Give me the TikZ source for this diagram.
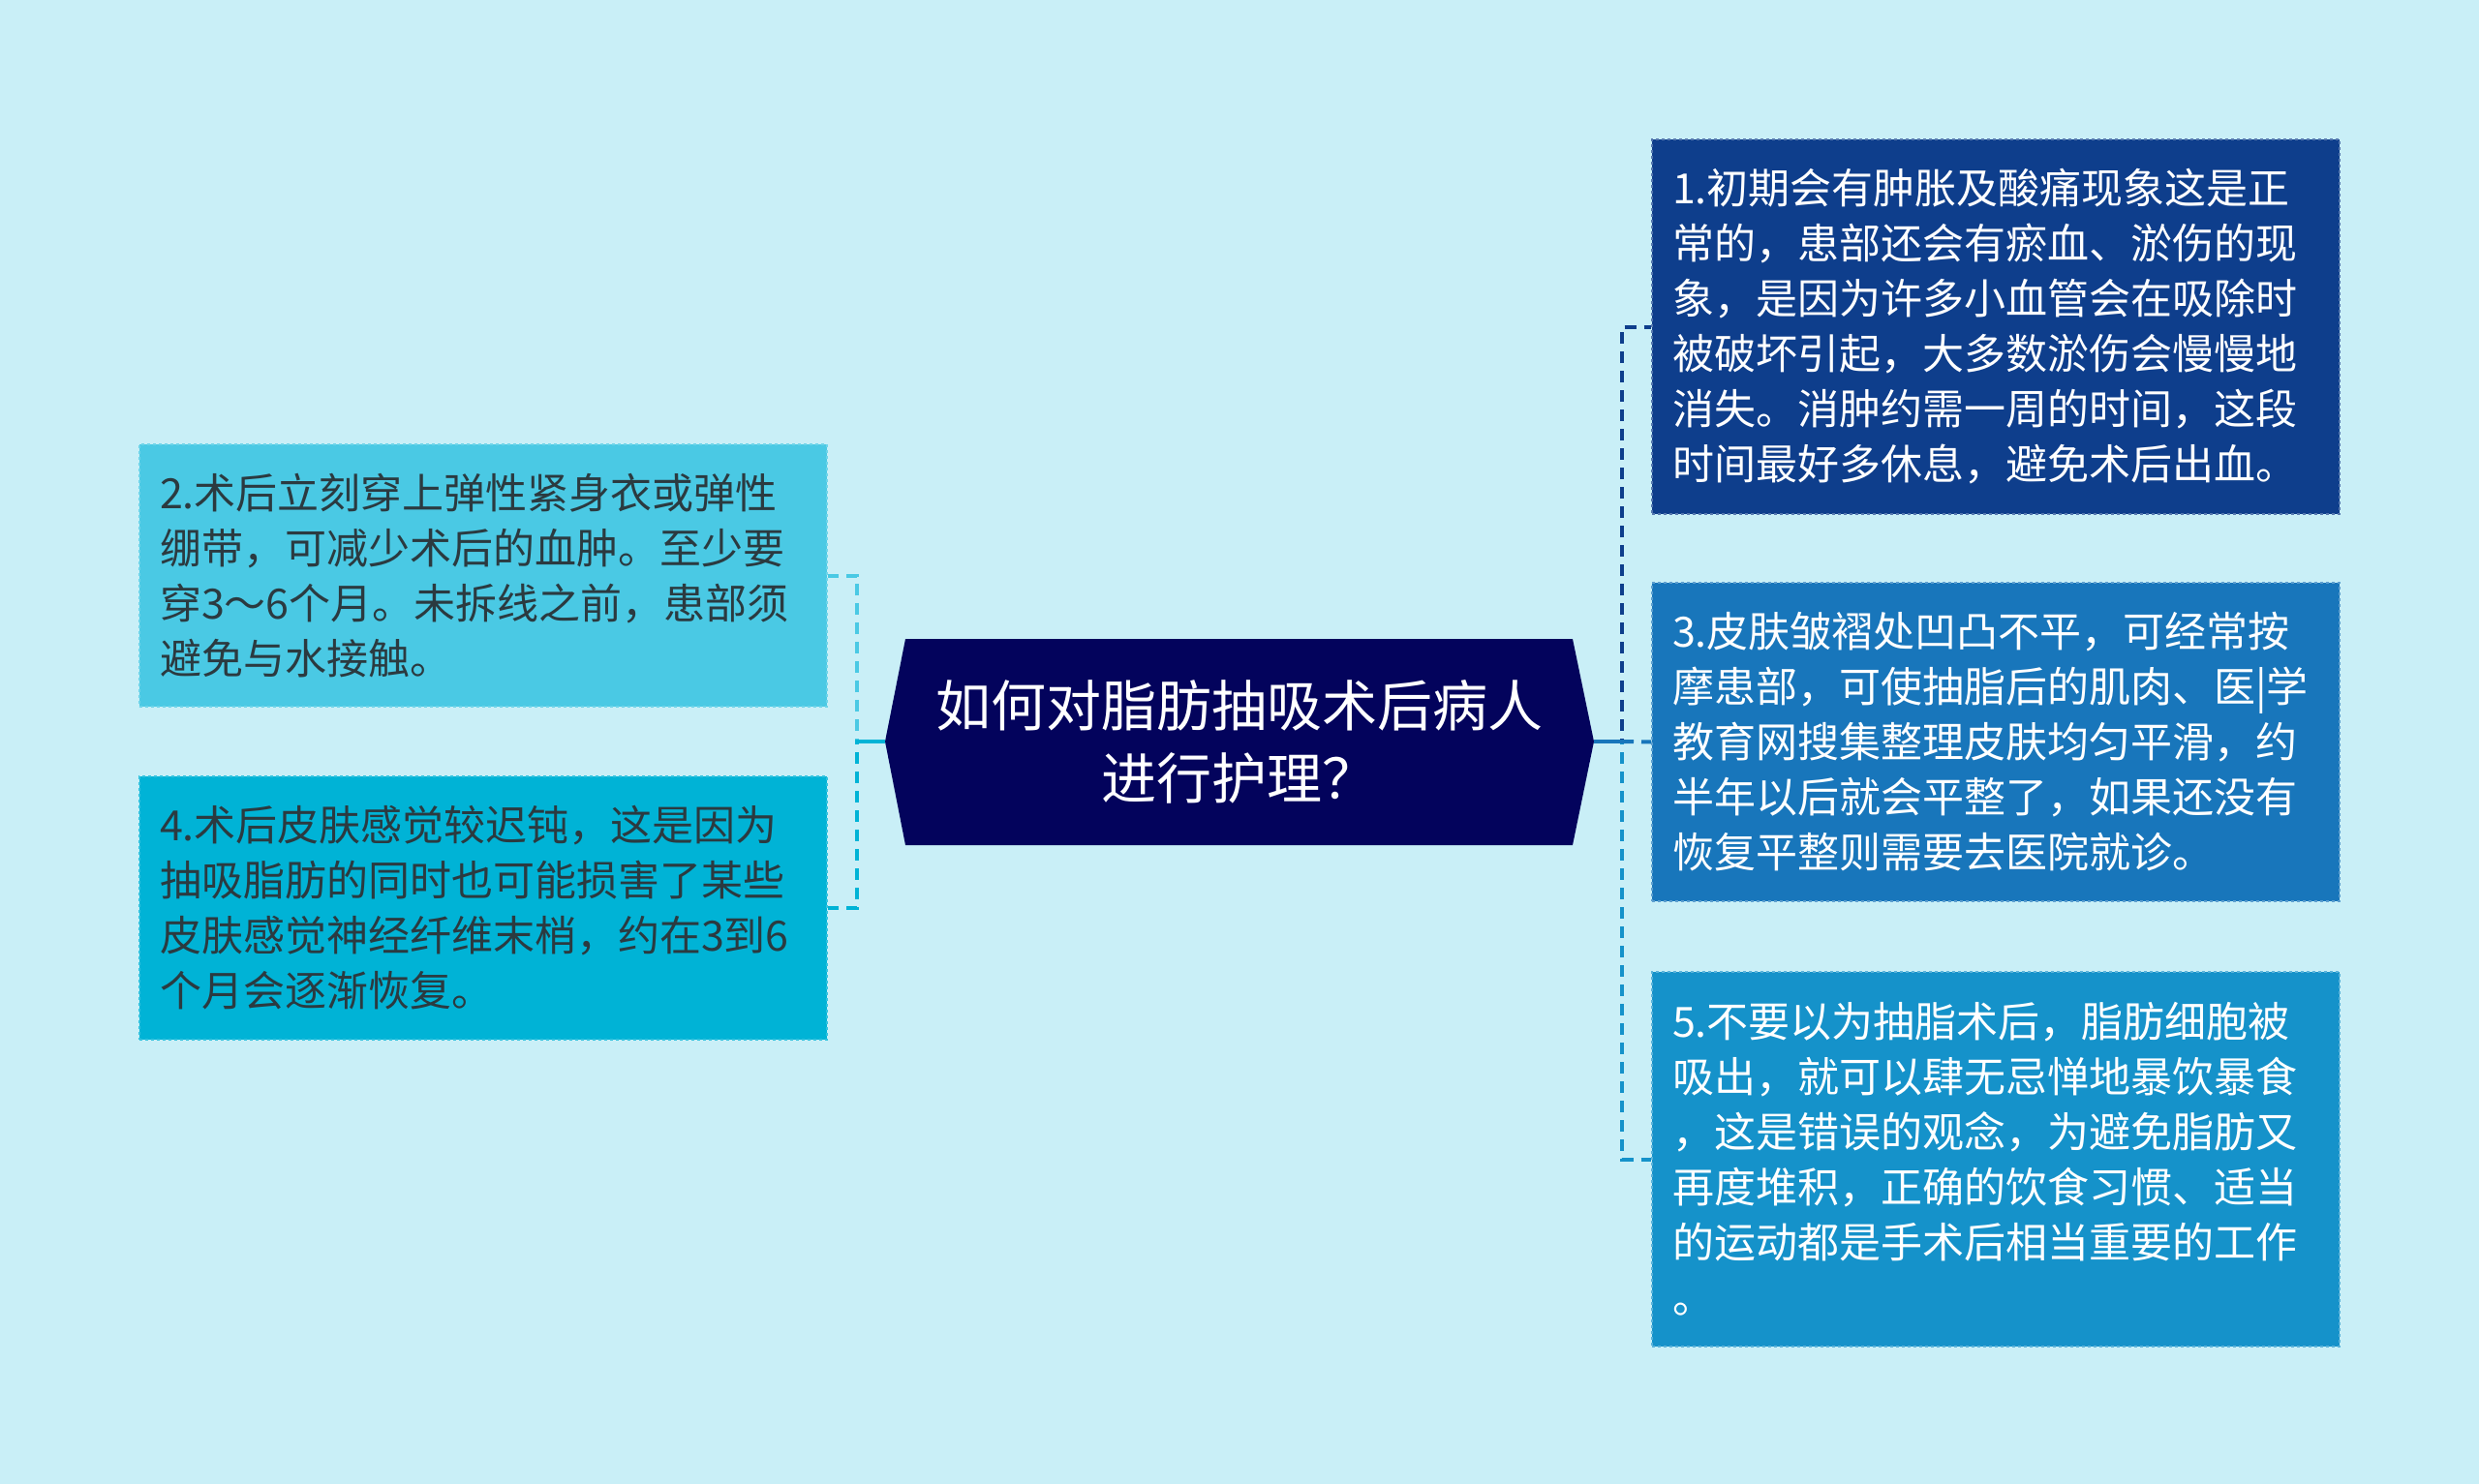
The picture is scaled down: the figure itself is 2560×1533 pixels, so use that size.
\documentclass[tikz,border=0pt]{standalone}
\usepackage{fontspec}
\newfontfamily\cjk{Noto Sans CJK SC}
\usetikzlibrary{positioning}
\definecolor{bgcol}{HTML}{C9EFF7}
\definecolor{hubcol}{HTML}{03035C}
\definecolor{onecol}{HTML}{0E3E8C}
\definecolor{threecol}{HTML}{1876BB}
\definecolor{fivecol}{HTML}{1592CA}
\definecolor{twocol}{HTML}{4AC9E4}
\definecolor{fourcol}{HTML}{00B3D6}
\definecolor{inkcol}{HTML}{2B3A40}
\tikzset{
leaf/.style={rectangle, minimum width=710pt, inner xsep=21pt, inner ysep=0pt,
  text width=668pt, align=left, font=\cjk\fontsize{43}{57}\selectfont,
  dashed, line width=1.5pt}, % boxes round the centre
hub/.style={minimum width=689pt, minimum height=213pt, align=center,
  text=white, font=\cjk\fontsize{57}{75}\selectfont},
link/.style={line width=4pt, dash pattern=on 12pt off 8pt},
}
\begin{document}
\begin{tikzpicture}[x=1pt, y=-1pt]
    \useasboundingbox (0,0) rectangle (2560,1533);
    \fill[bgcol] (0,0) rectangle (2560,1533);
    % centre shape
    \fill[hubcol] (935,660) -- (1624,660) -- (1646,766) -- (1624,873)
      -- (935,873) -- (914,766) -- cycle;
    \node[hub] (ctr) at (1280,766) {如何对脂肪抽吸术后病人\\进行护理？};
    \coordinate (ltip) at (914,766);
    \coordinate (rtip) at (1646,766);

    \node[leaf, fill=onecol, draw=onecol!70!white, text=white, minimum height=387pt] (b1) at (2061,337.5)
      {1.初期会有肿胀及酸痛现象这是正\\常的，患部还会有瘀血、淤伤的现\\象，是因为许多小血管会在吸除时\\被破坏引起，大多数淤伤会慢慢地\\消失。消肿约需一周的时间，这段\\时间最好多休息，避免术后出血。};
    \node[leaf, fill=threecol, draw=threecol!70!white, text=white, minimum height=329pt] (b3) at (2061,766.5)
      {3.皮肤皱褶处凹凸不平，可经常按\\摩患部，可使抽脂后的肌肉、医|学\\教育网搜集整理皮肤均匀平滑，约\\半年以后就会平整了，如果还没有\\恢复平整则需要去医院就诊。};
    \node[leaf, fill=fivecol, draw=fivecol!70!white, text=white, minimum height=387pt] (b5) at (2061,1197.5)
      {5.不要以为抽脂术后，脂肪细胞被\\吸出，就可以肆无忌惮地暴饮暴食\\，这是错误的观念，为避免脂肪又\\再度堆积，正确的饮食习惯、适当\\的运动都是手术后相当重要的工作\\。};
    \node[leaf, fill=twocol, draw=twocol!80!white, text=inkcol, minimum height=271pt] (b2) at (499,594.5)
      {2.术后立刻穿上弹性紧身衣或弹性\\绷带，可减少术后的血肿。至少要\\穿3～6个月。未拆线之前，患部须\\避免与水接触。};
    \node[leaf, fill=fourcol, draw=fourcol!80!white, text=inkcol, minimum height=272pt] (b4) at (499,938)
      {4.术后皮肤感觉较迟钝，这是因为\\抽吸脂肪的同时也可能损害了某些\\皮肤感觉神经纤维末梢，约在3到6\\个月会逐渐恢复。};

    % connectors
    \draw[link, onecol] (rtip) -- ++(29,0) |- (b1.west);
    \draw[link, fivecol] (rtip) -- ++(29,0) |- (b5.west);
    \draw[line width=4pt, threecol] (rtip) -- ++(29,0);
    \draw[link, threecol] ([xshift=29pt]rtip) -- (b3.west);
    \draw[link, twocol] (ltip) -- ++(-29,0) |- (b2.east);
    \draw[link, fourcol] (ltip) -- ++(-29,0) |- (b4.east);
    \draw[line width=4pt, fourcol] (ltip) -- ++(-29,0);
  \end{tikzpicture}
\end{document}
